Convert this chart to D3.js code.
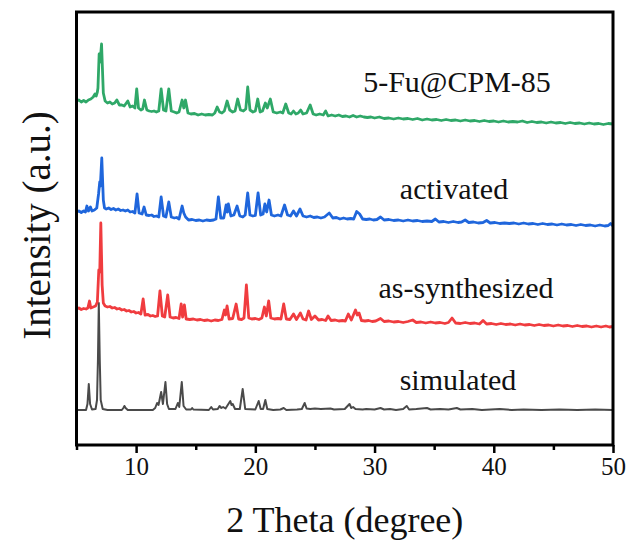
<!DOCTYPE html>
<html>
<head>
<meta charset="utf-8">
<script src="https://cdn.jsdelivr.net/npm/d3@7"></script>
<style>
  html, body { margin: 0; padding: 0; background: #fff; }
  svg { display: block; }
  text { font-family: "Liberation Serif", "Times New Roman", serif; fill: #111; }
</style>
</head>
<body>
<svg id="chart" width="633" height="545"></svg>
<script>
// PXRD patterns: [2θ (degree), intensity (a.u.)]
const simulated = [
  [5.0,4],[5.8,4],[5.92,10],[6.03,30],[6.14,10],[6.3,4.5],[6.6,5],[6.72,14],[6.8,55],[6.87,111],[6.95,55],[7.03,14],[7.2,5],[7.6,4],
  [8.8,4],[8.93,6],[9.02,8],[9.12,6],[9.3,4],[11.4,4],[11.6,6],[11.76,11],[11.88,9],[12.1,22],[12.25,10],[12.46,32],[12.6,10],[12.75,5],
  [13.3,5],[13.5,11],[13.62,7],[13.83,32],[13.98,8],[14.2,4.5],[14.6,4.5],[14.7,6],[14.8,4.5],[16.1,4],[16.3,7],[16.45,4.5],[16.85,5],
  [17.0,8],[17.15,6],[17.3,7],[17.5,5.5],[17.9,13],[18.0,9],[18.1,10],[18.3,5],[18.7,5],[18.94,25],[19.15,5],[20.0,4.5],[20.28,13],
  [20.45,5],[20.65,5],[20.84,14],[21.0,5],[21.5,4],[22.1,4.5],[22.38,6],[22.6,4],[23.5,4.5],[23.9,5],[24.14,11],[24.3,5.5],[24.6,5],
  [25.0,5.5],[25.5,5],[26.3,5.5],[26.6,4.5],[27.5,5],[27.9,10],[28.05,6],[28.2,7],[28.4,5],[29.0,4.5],[29.3,5],[30.0,4.5],[30.5,6],
  [30.8,4.5],[31.3,5],[31.8,4],[32.4,5],[32.7,8],[32.9,4.5],[33.5,5],[34.4,6],[34.7,4.5],[35.5,5],[36.2,4.5],[36.9,6],[37.2,4.5],
  [38.2,5],[39.0,4],[40.5,5],[41.5,4],[42.5,4.5],[44.0,4],[45.5,4.5],[47.0,4],[48.5,4.5],[50.0,4]
];

const asSynthesized = [
  [5.0,21],[5.2,22],[5.4,20.5],[5.6,21.5],[5.8,21],[5.95,22],[6.09,29],[6.2,22],[6.4,23],[6.6,24],[6.75,28],[6.87,60],[6.95,58],
  [7.04,107],[7.15,45],[7.25,27],[7.4,24],[7.6,23],[7.8,23.5],[8.0,22],[8.2,22.5],[8.4,21],[8.6,21.5],[8.8,20],[9.0,20.5],[9.2,19],
  [9.4,19.5],[9.6,18],[9.8,18.5],[10.0,17],[10.2,17.5],[10.4,16],[10.59,31],[10.75,15],[11.0,15.5],[11.2,14],[11.4,14.5],[11.6,13.5],
  [11.8,14],[12.0,39],[12.2,14],[12.4,13],[12.65,35],[12.85,13],[13.1,12],[13.35,12.5],[13.6,11.5],[13.78,26],[13.9,13],[14.05,25],
  [14.2,11],[14.5,10.5],[14.8,11],[15.1,10],[15.4,10.5],[15.7,9.5],[16.0,10],[16.3,9],[16.6,10],[16.9,9.5],[17.2,10.5],[17.4,20],
  [17.5,15],[17.63,24],[17.8,11],[18.1,11.5],[18.39,26],[18.6,11],[18.85,10.5],[19.05,12],[19.25,45],[19.45,12],[19.7,11],[20.0,11.5],
  [20.3,10.5],[20.55,12],[20.76,23],[20.92,14],[21.12,29],[21.3,12],[21.6,11],[21.9,11.5],[22.15,11],[22.38,26],[22.6,11],[22.9,10.5],
  [23.2,16],[23.45,10.5],[23.78,17],[24.0,11],[24.25,10],[24.47,19],[24.7,10.5],[25.0,14],[25.3,10],[25.6,10.5],[25.9,9.5],[26.1,14],
  [26.35,9.5],[26.7,10],[27.0,9],[27.3,9.5],[27.55,9],[27.8,16],[28.05,10],[28.4,20],[28.55,15],[28.7,17],[28.9,9.5],[29.2,9],
  [29.5,9.5],[29.8,8.5],[30.1,9],[30.5,11.5],[30.8,8.5],[31.2,9],[31.6,8],[32.0,8.5],[32.4,7.5],[32.8,8.5],[33.2,10],[33.5,7.5],
  [33.9,8],[34.3,7],[34.7,8],[35.1,7],[35.5,7.5],[35.9,6.5],[36.2,7.5],[36.5,12],[36.8,7],[37.2,6.5],[37.6,7.5],[38.0,6.5],[38.4,7],
  [38.8,6],[39.1,9.5],[39.4,6],[39.8,6.5],[40.2,5.5],[40.6,6.5],[41.0,5.5],[41.4,6],[41.8,5],[42.2,6],[42.6,5],[43.0,5.5],[43.4,4.5],
  [43.8,5.5],[44.2,4.5],[44.6,5],[45.0,4],[45.4,5],[45.8,4],[46.2,4.5],[46.6,3.5],[47.0,4.5],[47.4,3.5],[47.8,4],[48.2,3],[48.6,4],
  [49.0,3],[49.4,4],[49.7,3],[50.0,3.5]
];

const activated = [
  [5.0,18],[5.2,19],[5.4,17.5],[5.6,19],[5.75,18],[5.87,24],[6.0,19],[6.17,23],[6.3,19],[6.5,20],[6.7,22],[6.85,36],[6.95,48],[7.0,44],
  [7.12,72],[7.25,30],[7.35,22],[7.5,21],[7.7,22],[7.9,20.5],[8.1,21.5],[8.3,20],[8.5,21],[8.7,19.5],[8.9,20],[9.1,19],[9.3,20],
  [9.5,18],[9.7,18.5],[9.9,17],[10.08,36],[10.25,17],[10.5,16],[10.67,23],[10.85,15],[11.1,14.5],[11.3,15],[11.5,13.5],[11.7,14],
  [11.9,13],[12.1,33],[12.3,14],[12.5,13],[12.74,28],[12.95,13],[13.2,12],[13.4,12.5],[13.6,11],[13.86,24],[14.0,17],[14.15,13],
  [14.4,10],[14.7,10.5],[15.0,9.5],[15.3,10],[15.6,9],[15.9,10],[16.2,9.5],[16.5,10],[16.7,11],[16.9,33],[17.1,12],[17.35,12],
  [17.55,25],[17.65,18],[17.74,26],[17.95,14],[18.2,15],[18.47,24],[18.7,14],[18.95,13],[19.15,15],[19.36,37],[19.55,15],[19.8,14],
  [20.0,14.5],[20.23,37],[20.45,15],[20.65,16],[20.8,26],[20.95,18],[21.15,30],[21.35,15],[21.6,14],[21.9,15],[22.15,14],[22.45,25],
  [22.7,15],[22.95,14],[23.2,19],[23.45,14],[23.75,21],[24.0,14],[24.3,13],[24.6,14],[24.9,12.5],[25.2,13],[25.5,12],[25.8,13],
  [26.2,17],[26.5,12],[26.8,12.5],[27.1,11],[27.4,12],[27.7,11],[28.0,11.5],[28.25,11],[28.5,18.5],[28.75,16],[29.0,11],[29.3,10.5],
  [29.6,11],[29.9,10],[30.2,10.5],[30.5,13],[30.8,10],[31.2,10.5],[31.6,9.5],[32.0,10],[32.4,9],[32.8,10],[33.2,9],[33.6,9.5],
  [34.0,8.5],[34.4,9],[34.8,8.5],[35.1,11],[35.4,8],[35.8,8.5],[36.2,7.5],[36.6,8.5],[37.0,7.5],[37.3,8],[37.6,10],[37.9,7.5],
  [38.3,8],[38.7,7],[39.1,7.5],[39.4,9.5],[39.7,7],[40.1,7.5],[40.5,6.5],[40.9,7],[41.3,6.5],[41.7,7],[42.1,6],[42.5,7],[42.9,6],
  [43.3,6.5],[43.7,5.5],[44.1,6.5],[44.5,5.5],[44.9,6],[45.3,5],[45.7,6],[46.1,5],[46.5,5.5],[46.9,4.5],[47.3,5.5],[47.7,4.5],
  [48.1,5],[48.5,4],[48.9,5],[49.3,4],[49.6,4.5],[49.8,6.5],[50.0,4]
];

const loaded = [
  [5.0,27],[5.2,28],[5.4,26],[5.6,27.5],[5.8,26],[6.0,28],[6.2,29],[6.4,31],[6.55,34],[6.65,32],[6.75,36],[6.8,40],[6.9,74],[6.98,66],
  [7.1,84],[7.25,35],[7.4,27],[7.6,25],[7.8,26],[8.0,24],[8.2,25],[8.38,28],[8.6,23],[8.8,23],[9.0,22],[9.3,27],[9.5,21],[9.7,22],
  [9.9,20],[10.05,39],[10.2,20],[10.4,18],[10.55,19],[10.7,28],[10.9,18],[11.1,17],[11.3,16.5],[11.5,17],[11.7,16],[11.9,17],
  [12.1,39],[12.3,18],[12.5,17],[12.74,39],[12.95,17],[13.2,16],[13.4,15],[13.6,16],[13.86,28],[14.0,20],[14.14,28],[14.35,15],
  [14.6,14],[14.9,14.5],[15.2,13],[15.5,14],[15.8,13],[16.1,13.5],[16.4,13],[16.6,15],[16.8,21],[17.0,16],[17.2,15],[17.4,17],
  [17.63,27],[17.85,18],[18.1,16],[18.3,17],[18.52,29],[18.75,18],[19.0,17],[19.2,19],[19.36,41],[19.55,18],[19.8,16],[20.0,17],
  [20.2,29],[20.4,16],[20.6,17],[20.84,25],[21.0,20],[21.26,29],[21.5,16],[21.8,15],[22.1,16],[22.3,15],[22.55,24],[22.8,15],
  [23.0,14],[23.2,17],[23.4,14],[23.6,15],[23.8,18],[24.0,14],[24.3,15],[24.6,23],[24.85,14],[25.1,13],[25.4,14],[25.7,13],[25.9,17],
  [26.1,12],[26.4,13],[26.7,12],[27.0,13],[27.3,11.5],[27.6,12],[27.9,11],[28.2,12.5],[28.5,11],[28.8,12],[29.1,11],[29.4,10.5],
  [29.7,11],[30.0,10],[30.4,11],[30.8,9.5],[31.2,10],[31.6,9],[32.0,10],[32.4,9],[32.8,9.5],[33.2,8.5],[33.6,9.5],[34.0,8],[34.4,9],
  [34.8,8],[35.2,8.5],[35.6,7.5],[36.0,8.5],[36.4,7.5],[36.8,8],[37.2,7],[37.6,8],[38.0,7],[38.4,7.5],[38.8,6.5],[39.2,7.5],[39.6,6.5],
  [40.0,7],[40.4,6],[40.8,7],[41.2,6],[41.6,6.5],[42.0,6],[42.4,7],[42.8,5.5],[43.2,6.5],[43.6,5.5],[44.0,6],[44.4,5],[44.8,6],
  [45.2,5],[45.6,5.5],[46.0,4.5],[46.4,5.5],[46.8,4.5],[47.2,5],[47.6,4],[48.0,5],[48.4,4],[48.8,4.5],[49.2,3.5],[49.6,4.5],[50.0,4]
];

const seriesNames   = ["simulated", "as-synthesized", "activated", "5-Fu@CPM-85"];
const seriesData    = [simulated, asSynthesized, activated, loaded];
const seriesOffsets = [31, 115, 215, 317];
const seriesColors  = ["#4a4a4a", "#f03c3f", "#1f66dc", "#2fa868"];

const majorTicks = [10, 20, 30, 40, 50];
const minorTicks = [5, 15, 25, 35, 45];
const xTitle = "2 Theta (degree)";
const yTitle = "Intensity (a.u.)";

const svg = d3.select("#chart");
const L = 76.5, R = 613, T = 12, B = 445;

const x = d3.scaleLinear().domain([5, 50]).range([L, R]);
const y = d3.scaleLinear().domain([0, 433]).range([B, T]);

// traces, each lifted by its stacking offset
const line = d3.line().x(d => x(d[0])).y(d => y(d[1]));
seriesData.forEach((data, i) => {
  const shifted = data.map(d => [d[0], d[1] + seriesOffsets[i]]);
  svg.append("path")
    .datum(shifted)
    .attr("fill", "none")
    .attr("stroke", seriesColors[i])
    .attr("stroke-width", i === 0 ? 2 : 2.8)
    .attr("stroke-linejoin", "round")
    .attr("d", line);
});

// series labels
const labelCentres   = [458, 466, 454, 457];
const labelBaselines = [390, 298, 199, 92];
seriesNames.forEach((name, i) => {
  svg.append("text")
    .attr("x", labelCentres[i])
    .attr("y", labelBaselines[i])
    .attr("text-anchor", "middle")
    .attr("font-size", 30)
    .text(name);
});

// bottom axis: major ticks with labels, minor ticks without
const axisMajor = d3.axisBottom(x).tickValues(majorTicks).tickSize(8).tickFormat(d3.format("d"));
const axisMinor = d3.axisBottom(x).tickValues(minorTicks).tickSize(5).tickFormat("");

const gMinor = svg.append("g").attr("transform", `translate(0,${B})`).call(axisMinor);
const gMajor = svg.append("g").attr("transform", `translate(0,${B})`).call(axisMajor);
[gMinor, gMajor].forEach(g => {
  g.select(".domain").remove();
  g.selectAll(".tick line").attr("stroke", "#000").attr("stroke-width", 2.5);
});
gMajor.selectAll(".tick text")
  .attr("font-family", "Liberation Serif, Times New Roman, serif")
  .attr("font-size", 25)
  .attr("fill", "#111")
  .attr("y", 12)
  .attr("dy", "0.71em");

// frame
svg.append("rect")
  .attr("x", L).attr("y", T)
  .attr("width", R - L).attr("height", B - T)
  .attr("fill", "none")
  .attr("stroke", "#000")
  .attr("stroke-width", 3);

// axis titles
svg.append("text")
  .attr("x", (L + R) / 2)
  .attr("y", 532)
  .attr("text-anchor", "middle")
  .attr("font-size", 36)
  .text(xTitle);

svg.append("text")
  .attr("transform", `translate(50,${(T + B) / 2 - 3}) rotate(-90)`)
  .attr("text-anchor", "middle")
  .attr("font-size", 39)
  .text(yTitle);
</script>
</body>
</html>
